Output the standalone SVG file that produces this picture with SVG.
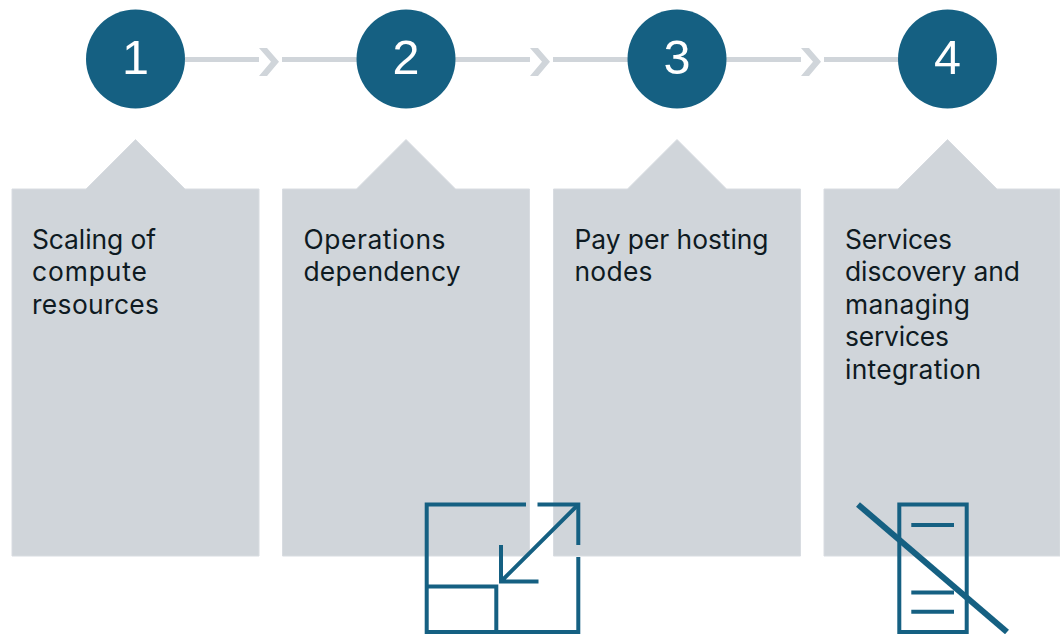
<svg xmlns="http://www.w3.org/2000/svg" width="1060" height="634" viewBox="0 0 1060 634">
<style>
.card{fill:#d0d5da;stroke:#d8dce1;stroke-width:1}
.circle{fill:#156082}
.num{font-family:"Liberation Sans",Arial,sans-serif;font-size:48.500px;fill:#fff;text-anchor:middle}
.txt{font-family:"Inter","Open Sans",sans-serif;font-size:26.400px;fill:#0e1a22}
.line{stroke:#d0d5da;stroke-width:5;fill:none}
.chev{fill:#d0d5da}
.ic{stroke:#156082;stroke-width:4;fill:none}
.slash{stroke:#156082;stroke-width:6;fill:none}
</style>
<rect width="1060" height="634" fill="#fff"/>
<g id="card-1"><path class="card" d="M12 189H86L135.500 139.500L185 189H259V556H12Z"/><text class="txt" x="32" y="248.500" textLength="124">Scaling of</text><text class="txt" x="32" y="281" textLength="115">compute</text><text class="txt" x="32" y="313.500" textLength="127">resources</text></g>
<g id="card-2"><path class="card" d="M282.500 189H356.500L406 139.500L455.500 189H529.500V556H282.500Z"/><text class="txt" x="303.500" y="248.500" textLength="142">Operations</text><text class="txt" x="303.500" y="281" textLength="157">dependency</text></g>
<g id="card-3"><path class="card" d="M553.500 189H627.500L677 139.500L726.500 189H800.500V556H553.500Z"/><text class="txt" x="574.500" y="248.500" textLength="194">Pay per hosting</text><text class="txt" x="574.500" y="281" textLength="78">nodes</text></g>
<g id="card-4"><path class="card" d="M824 189H898L947.500 139.500L997 189H1060V556H824Z"/><text class="txt" x="845" y="248.500" textLength="107">Services</text><text class="txt" x="845" y="281" textLength="175">discovery and</text><text class="txt" x="845" y="313.500" textLength="125">managing</text><text class="txt" x="845" y="346" textLength="104">services</text><text class="txt" x="845" y="378.500" textLength="136">integration</text></g>
<g id="connectors">
<path class="line" d="M185 59.500H259M282 59.500H357M455 59.500H530M553 59.500H628M726 59.500H801M824 59.500H899"/>
<path id="chev-1" class="chev" d="M259 48H267L279 61.700L267 76H259L271 61.700Z"/>
<path id="chev-2" class="chev" d="M530 48H538L550 61.700L538 76H530L542 61.700Z"/>
<path id="chev-3" class="chev" d="M801 48H809L821 61.700L809 76H801L813 61.700Z"/>
</g>
<g id="node-1"><circle class="circle" cx="135.500" cy="59" r="49.500"/><text class="num" x="135.500" y="74">1</text></g>
<g id="node-2"><circle class="circle" cx="406" cy="59" r="49.500"/><text class="num" x="406" y="74">2</text></g>
<g id="node-3"><circle class="circle" cx="677" cy="59" r="49.500"/><text class="num" x="677" y="74">3</text></g>
<g id="node-4"><circle class="circle" cx="947.500" cy="59" r="49.500"/><text class="num" x="947.500" y="74">4</text></g>
<g id="icon-scale">
<path class="ic" d="M526 504.500H426.700V632H578.300V557M578.300 545V504.500H537.500M426.700 586.500H496.300V632"/>
<path class="ic" d="M578.300 504.500L501 581.500M501 545V581.500H538.500"/>
</g>
<g id="icon-server">
<rect class="ic" x="899.300" y="504.500" width="67.400" height="127.500"/>
<path class="ic" d="M911.300 525H954M911.300 592.500H954M911.300 611.700H954"/>
<path class="slash" d="M858 504.500L1007 632"/>
</g>
</svg>
